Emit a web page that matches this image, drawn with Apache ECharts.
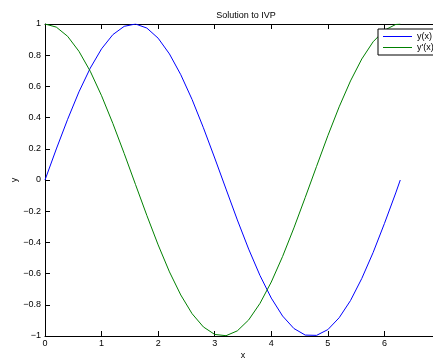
<!DOCTYPE html>
<html><head><meta charset="utf-8">
<script src="https://cdn.jsdelivr.net/npm/echarts@6/dist/echarts.min.js"></script>
<style>html,body{margin:0;padding:0;background:#fff}#c{width:433px;height:358px}</style>
</head><body><div id="c"></div>
<script>
const xs = [0,0.2,0.4,0.6,0.8,1.0,1.2,1.4,1.6,1.8,2.0,2.2,2.4,2.6,2.8,3.0,3.2,3.4,3.6,3.8,4.0,4.2,4.4,4.6,4.8,5.0,5.2,5.4,5.6,5.8,6.0,6.2,6.28];
const yVals = [0,0.199,0.389,0.565,0.717,0.841,0.932,0.985,1.000,0.974,0.909,0.808,0.675,0.516,0.335,0.141,-0.058,-0.256,-0.443,-0.612,-0.757,-0.872,-0.952,-0.994,-0.996,-0.959,-0.883,-0.773,-0.631,-0.465,-0.279,-0.083,0.000];
const dyVals = [1,0.980,0.921,0.825,0.697,0.540,0.362,0.170,-0.029,-0.227,-0.416,-0.589,-0.737,-0.857,-0.942,-0.990,-0.998,-0.967,-0.897,-0.791,-0.654,-0.490,-0.307,-0.112,0.087,0.284,0.469,0.635,0.776,0.886,0.960,0.997,1.000];
const seriesNames = ["y(x)", "y'(x)"];
const titleText = "Solution to IVP";
const xName = "x", yName = "y";

const font = 'Liberation Sans, Arial, Helvetica, sans-serif';
const chart = echarts.init(document.getElementById('c'), null, {renderer:'canvas'});
const axBase = {
  axisLine:{show:true, onZero:false, lineStyle:{color:'#000', width:1}},
  axisTick:{show:true, inside:true, length:5, lineStyle:{color:'#000'}},
  splitLine:{show:false}
};
chart.setOption({
  animation:false,
  backgroundColor:'#fff',
  title:{text:titleText, left:241, textAlign:'center', top:6, textStyle:{fontSize:9, fontWeight:'normal', color:'#000', fontFamily:font}},
  grid:{left:45, top:24, right:-8, bottom:22, containLabel:false, outerBoundsMode:'none'},
  legend:{
    left:378, top:29, orient:'vertical', itemGap:0, padding:[2,4,2,5],
    backgroundColor:'#fff', borderColor:'#000', borderWidth:1,
    itemWidth:29, itemHeight:1, icon:'rect',
    textStyle:{fontSize:9, color:'#000', fontFamily:font, padding:[0,0,0,0], lineHeight:11},
    data:seriesNames
  },
  xAxis:[
    Object.assign({type:'value', min:0, max:7, interval:1, position:'bottom',
      name:xName, nameLocation:'middle', nameGap:15, nameMoveOverlap:false,
      nameTextStyle:{fontSize:9, color:'#000', fontFamily:font},
      axisLabel:{fontSize:9, color:'#000', fontFamily:font, margin:3}}, axBase),
    Object.assign({type:'value', min:0, max:7, interval:1, position:'top',
      axisLabel:{show:false}}, axBase)
  ],
  yAxis:[
    Object.assign({type:'value', min:-1, max:1, interval:0.2, position:'left',
      name:yName, nameLocation:'middle', nameGap:26, nameMoveOverlap:false,
      nameTextStyle:{fontSize:9, color:'#000', fontFamily:font},
      axisLabel:{fontSize:9, color:'#000', fontFamily:font, margin:4,
        formatter:v=>{const r=Math.round(v*10)/10; return (r<0?'\u2212':'')+String(Math.abs(r));}}}, axBase)
  ],
  series:[
    {name:seriesNames[0], type:'line', showSymbol:false, symbol:'none', lineStyle:{color:'#0000ff', width:1}, itemStyle:{color:'#0000ff'},
     data:xs.map((x,i)=>[x,yVals[i]])},
    {name:seriesNames[1], type:'line', showSymbol:false, symbol:'none', lineStyle:{color:'#008000', width:1}, itemStyle:{color:'#008000'},
     data:xs.map((x,i)=>[x,dyVals[i]])}
  ]
});
</script></body></html>
